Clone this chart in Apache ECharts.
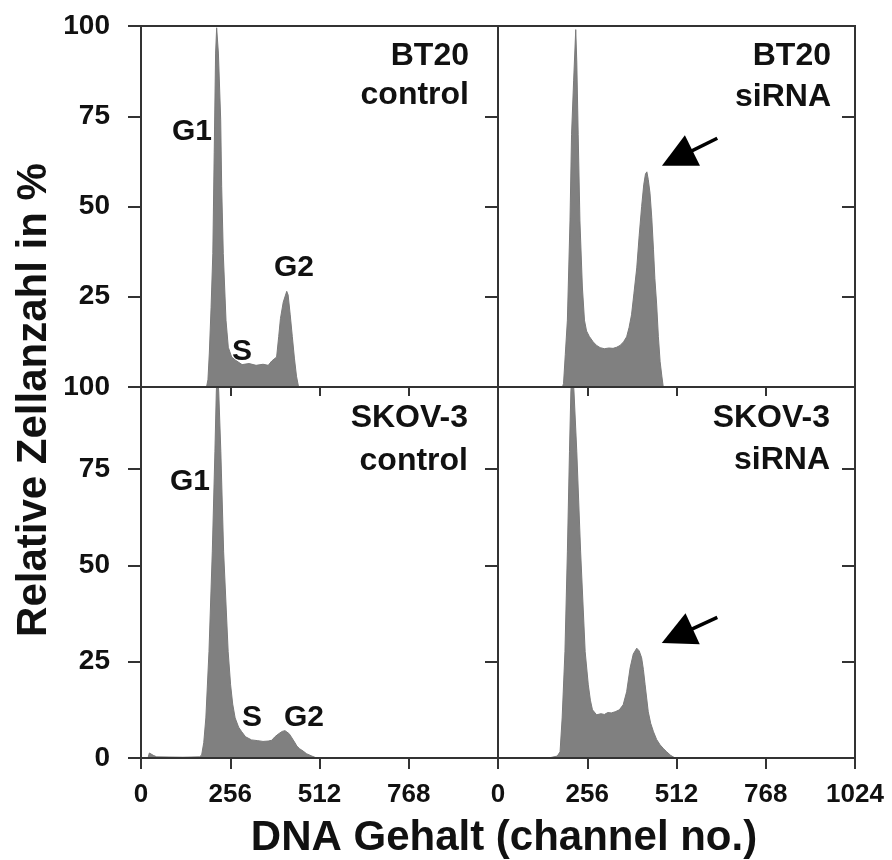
<!DOCTYPE html>
<html>
<head>
<meta charset="utf-8">
<script src="https://cdn.jsdelivr.net/npm/echarts@6/dist/echarts.min.js"></script>
<style>
  html, body { margin: 0; padding: 0; background: #fff; }
  #chart { width: 892px; height: 860px; }
</style>
</head>
<body>
<div id="chart"></div>
<script>
// DNA-Histogramme: [channel, relative Zellanzahl in %]
const btControl = [
  [0, 0], [188, 0], [192, 2], [196, 9.4], [201, 22], [206, 37], [210, 65], [214, 92.5], [217, 99.5],
  [222, 92.5], [228.6, 74], [231.4, 55.5], [236, 37], [243.8, 18.5], [250.4, 11], [260, 8.3],
  [270, 7.5], [290, 6.2], [310, 6.5], [330, 6.0], [350, 6.3], [365, 6.0], [375, 7.2], [389, 8.3],
  [395, 14], [400, 19], [408, 23.5], [418, 26.5], [422, 25.5], [428, 20], [434, 14], [440, 8],
  [446, 3], [452, 0], [1024, 0],
];
const btSirna = [
  [0, 0], [185, 0], [188, 1], [193, 9], [199, 18.5], [206.5, 46], [211, 70], [217, 85], [223, 99],
  [226, 90], [230, 70], [235, 46], [242, 27.7], [248, 18.5], [254, 15.5], [262, 14], [273, 12.5],
  [283, 11.5], [293, 10.9], [305, 10.6], [318, 10.8], [330, 10.7], [340, 11], [350, 11.5],
  [360, 12.5], [369, 13.9], [376, 16.5], [383, 20], [390, 26], [398, 33], [405, 42], [412, 50],
  [418, 56], [423, 59], [427, 59.6], [431, 57.5], [436, 53.7], [441, 47], [446, 38], [450, 30],
  [455, 23], [460, 14], [465, 7], [470, 3], [474, 0], [1024, 0],
];
const skovControl = [
  [0, 0], [20, 0], [24, 1.3], [29, 1.4], [35, 0.7], [45, 0.3], [120, 0.2], [168, 0.3], [174, 0.8],
  [180, 4], [186, 10.4], [195, 27.6], [204.5, 53.5], [212, 79.5], [216, 95], [219, 101], [223, 95],
  [229, 79.5], [237, 53.5], [250, 27.6], [257, 19], [263, 14], [270, 10.4], [280, 8], [289, 6.8],
  [300, 5.5], [317, 4.7], [335, 4.5], [350, 4.3], [365, 4.4], [375, 4.6], [384, 5.5], [395, 6.3],
  [405, 6.9], [413, 7.1], [418, 7.0], [425, 6.3], [433, 5.2], [442, 3.9], [447, 3.1], [455, 2.4],
  [465, 1.8], [475, 1.1], [490, 0.5], [504, 0], [1024, 0],
];
const skovSirna = [
  [0, 0], [145, 0], [149, 0.4], [170, 0.5], [178, 1.6], [184, 10.4], [192, 27.6], [199, 53.5],
  [205, 79.5], [209, 95], [213, 102], [218, 95], [226, 79.5], [237, 53.5], [250, 27.6], [259, 19],
  [265, 15], [271, 12.5], [283, 11.2], [295, 11.5], [305, 11.3], [315, 11.8], [325, 11.7],
  [336, 12], [348, 12.5], [359, 13.8], [369, 17.2], [379, 23.4], [388, 27], [398, 28.5],
  [405, 27.8], [412, 26], [417, 23], [422, 19], [431, 12], [438, 9], [446, 6.8], [455, 4.8],
  [465, 3.4], [475, 2.4], [484, 1.6], [495, 0.7], [508, 0], [1024, 0],
];

// Pfeile auf die G2-Peaks nach siRNA (Start, Ende in Datenkoordinaten)
const arrowTop = [[629, 68.9], [514, 63.4]];
const arrowBottom = [[629, 36.5], [514, 31.7]];

const panelNames = [['BT20', 'control'], ['BT20', 'siRNA'], ['SKOV-3', 'control'], ['SKOV-3', 'siRNA']];
const phaseNames = ['G1', 'S', 'G2'];

const FONT = '"Liberation Sans", Arial, Helvetica, sans-serif';
const INK = '#333';
const TEXT = '#111';
const FILL = '#808080';
const TOP_MAX = 100;
const BOTTOM_MAX = 96.3; // unten liegt 100 knapp oberhalb der Kante

const grids = [
  { left: 141, top: 26, width: 357, height: 361 },
  { left: 498, top: 26, width: 357, height: 361 },
  { left: 141, top: 387, width: 357, height: 371 },
  { left: 498, top: 387, width: 357, height: 371 },
].map((g) => ({ ...g, show: true, borderColor: INK, borderWidth: 2, outerBoundsMode: 'none' }));

const line = { color: INK, width: 2 };

const xAxes = grids.map((g, i) => {
  const bottomRow = i >= 2;
  return {
    type: 'value',
    gridIndex: i,
    min: 0,
    max: 1024,
    interval: 256,
    z: 5,
    splitLine: { show: false },
    axisLine: { show: true, onZero: false, lineStyle: line },
    axisTick: { show: true, inside: false, length: bottomRow ? 11 : 9, lineStyle: line },
    axisLabel: {
      show: bottomRow,
      showMaxLabel: i === 3,
      margin: 24,
      fontSize: 26,
      fontWeight: 'bold',
      color: TEXT,
      fontFamily: FONT,
      formatter: (v) => String(v),
    },
  };
});

const yAxes = [];
grids.forEach((g, i) => {
  const max = i >= 2 ? BOTTOM_MAX : TOP_MAX;
  const leftCol = i % 2 === 0;
  const base = {
    type: 'value',
    gridIndex: i,
    min: 0,
    max,
    interval: 25,
    z: 5,
    splitLine: { show: false },
    axisLine: { show: true, onZero: false, lineStyle: line },
  };
  yAxes.push({
    ...base,
    position: 'left',
    axisTick: { show: leftCol, inside: false, length: 13, lineStyle: line },
    axisLabel: {
      show: leftCol,
      showMinLabel: i !== 0,
      margin: 31,
      fontSize: 28,
      fontWeight: 'bold',
      color: TEXT,
      fontFamily: FONT,
      formatter: (v) => (v > 90 ? '100' : String(v)),
    },
  });
  yAxes.push({
    ...base,
    position: 'right',
    axisTick: { show: true, inside: true, length: 13, lineStyle: line },
    axisLabel: { show: false },
  });
});

function arrow(a) {
  return {
    silent: true,
    animation: false,
    symbol: ['none', 'triangle'],
    symbolSize: 34,
    label: { show: false },
    lineStyle: { color: '#000', width: 3.5, type: 'solid' },
    data: [[{ coord: a[0] }, { coord: a[1] }]],
  };
}

const series = [btControl, btSirna, skovControl, skovSirna].map((data, i) => ({
  type: 'line',
  xAxisIndex: i,
  yAxisIndex: 2 * i,
  data,
  symbol: 'none',
  showSymbol: false,
  silent: true,
  clip: true,
  z: 2,
  lineStyle: { color: '#7a7a7a', width: 1 },
  areaStyle: { color: FILL, opacity: 1 },
  markLine: i === 1 ? arrow(arrowTop) : i === 3 ? arrow(arrowBottom) : undefined,
}));

// Beschriftungen in Pixeln
const namePos = [[469, 56, 95], [831, 56, 97], [468, 418, 461], [830, 418, 460]];
const phasePos = [
  [[192, 132], [242, 352], [294, 268]],
  [[190, 482], [252, 718], [304, 718]],
];

function txt(text, x, y, size, align, extra) {
  return {
    type: 'text',
    x,
    y,
    z: 10,
    silent: true,
    style: {
      text,
      fill: TEXT,
      fontSize: size,
      fontWeight: 'bold',
      fontFamily: FONT,
      align,
      verticalAlign: 'middle',
    },
    ...(extra || {}),
  };
}

const graphic = [];
panelNames.forEach((names, i) => {
  const [x, y1, y2] = namePos[i];
  graphic.push(txt(names[0], x, y1, 32, 'right'));
  graphic.push(txt(names[1], x, y2, 32, 'right'));
});
phasePos.forEach((row) => {
  row.forEach((p, k) => graphic.push(txt(phaseNames[k], p[0], p[1], 30, 'center')));
});
graphic.push(txt('Relative Zellanzahl in %', 34, 400, 42, 'center', { rotation: Math.PI / 2 }));
graphic.push(txt('DNA Gehalt (channel no.)', 504, 838, 42, 'center'));

const chart = echarts.init(document.getElementById('chart'));
chart.setOption({
  animation: false,
  backgroundColor: '#fff',
  grid: grids,
  xAxis: xAxes,
  yAxis: yAxes,
  series,
  graphic,
});
</script>
</body>
</html>
